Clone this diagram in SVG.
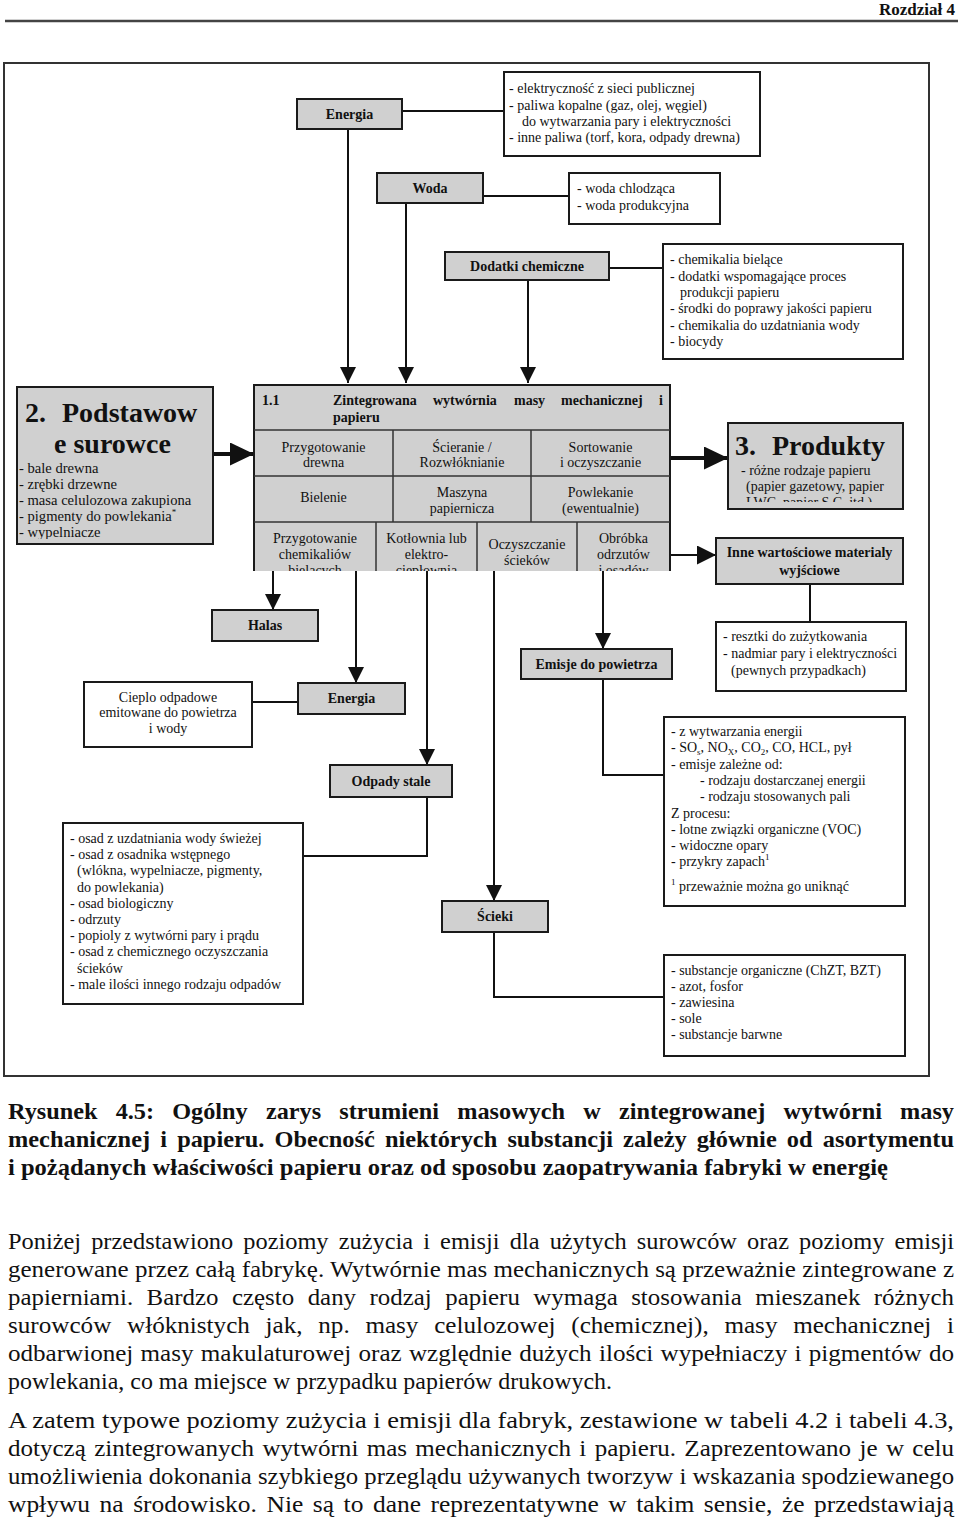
<svg xmlns="http://www.w3.org/2000/svg" width="960" height="1520" viewBox="0 0 960 1520">
<style>
text{font-family:"Liberation Serif","Times New Roman",serif;fill:#111}
.t{font-size:14px}
.tl{font-size:14.6px}
.b{font-size:14px;font-weight:bold}
.c{text-anchor:middle}
.g{fill:#d0d0d0;stroke:#1a1a1a;stroke-width:2}
.w{fill:#fff;stroke:#1a1a1a;stroke-width:2}
.ln{fill:none;stroke:#111;stroke-width:2}
.thick{fill:none;stroke:#111;stroke-width:4}
.dv{fill:none;stroke:#333;stroke-width:1.5}
.big{font-size:28px;font-weight:bold}
.cap{font-size:24px;font-weight:bold}
.body{font-size:24px}
.sm{font-size:9px}
</style>
<defs>
<marker id="arr" viewBox="0 0 16 16" refX="16" refY="8" markerWidth="16" markerHeight="16" markerUnits="userSpaceOnUse" orient="auto"><path d="M0,0L16,8L0,16z" fill="#111"/></marker>
<marker id="arr2" viewBox="0 0 19 19" refX="19" refY="9.5" markerWidth="19" markerHeight="19" markerUnits="userSpaceOnUse" orient="auto"><path d="M0,0L19,9.5L0,19z" fill="#111"/></marker>
<marker id="bigA" viewBox="0 0 24 23" refX="24" refY="11.5" markerWidth="24" markerHeight="23" markerUnits="userSpaceOnUse" orient="auto"><path d="M0,0L24,11.5L0,23z" fill="#111"/></marker>
<clipPath id="cc"><rect x="250" y="380" width="425" height="191"/></clipPath>
<clipPath id="cp"><rect x="17" y="387" width="196" height="152"/></clipPath>
<clipPath id="cq"><rect x="728" y="423" width="175" height="79"/></clipPath>
</defs>
<rect width="960" height="1520" fill="#fff"/>

<g id="header">
<text x="955" y="15" style="font-size:17px;font-weight:bold;text-anchor:end">Rozdział 4</text>
<line x1="5" y1="21" x2="958" y2="21" stroke="#444" stroke-width="2.5"/>
</g>

<rect id="frame" x="4" y="63" width="925" height="1013" fill="none" stroke="#333" stroke-width="2"/>

<g id="connectors">
<path class="ln" d="M348,129V383" marker-end="url(#arr)"/>
<path class="ln" d="M406,203V383" marker-end="url(#arr)"/>
<path class="ln" d="M528,280V383" marker-end="url(#arr)"/>
<path class="ln" d="M402,111H504"/>
<path class="ln" d="M483,196H569"/>
<path class="ln" d="M609,268H663"/>
<path class="thick" d="M213,454H254" marker-end="url(#bigA)"/>
<path class="thick" d="M671,458H728" marker-end="url(#bigA)"/>
<path class="ln" d="M668,555H716" marker-end="url(#arr2)"/>
<path class="ln" d="M810,584V622"/>
<path class="ln" d="M273,571V610" marker-end="url(#arr)"/>
<path class="ln" d="M356,571V683" marker-end="url(#arr)"/>
<path class="ln" d="M427,571V765" marker-end="url(#arr)"/>
<path class="ln" d="M494,571V901" marker-end="url(#arr)"/>
<path class="ln" d="M603,571V649" marker-end="url(#arr)"/>
<path class="ln" d="M298,702H252"/>
<path class="ln" d="M427,797V856H303"/>
<path class="ln" d="M494,932V997H664"/>
<path class="ln" d="M603,679V775H664"/>
</g>

<g id="energia-in">
<rect class="g" x="297" y="99" width="105" height="30"/>
<text class="b c" x="349.5" y="119">Energia</text>
</g>
<g id="energia-list">
<rect class="w" x="504" y="72" width="256" height="84"/>
<text class="t" x="509" y="93">- elektryczność z sieci publicznej</text>
<text class="t" x="509" y="110">- paliwa kopalne (gaz, olej, węgiel)</text>
<text class="t" x="522" y="126">do wytwarzania pary i elektryczności</text>
<text class="t" x="509" y="142">- inne paliwa (torf, kora, odpady drewna)</text>
</g>

<g id="woda">
<rect class="g" x="377" y="173" width="106" height="30"/>
<text class="b c" x="430" y="193">Woda</text>
</g>
<g id="woda-list">
<rect class="w" x="569" y="173" width="151" height="51"/>
<text class="t" x="577" y="193">- woda chlodząca</text>
<text class="t" x="577" y="210">- woda produkcyjna</text>
</g>

<g id="dodatki">
<rect class="g" x="445" y="252" width="164" height="28"/>
<text class="b c" x="527" y="271">Dodatki chemiczne</text>
</g>
<g id="dodatki-list">
<rect class="w" x="663" y="244" width="240" height="115"/>
<text class="t" x="670" y="264">- chemikalia bielące</text>
<text class="t" x="670" y="280.5">- dodatki wspomagające proces</text>
<text class="t" x="680" y="297">produkcji papieru</text>
<text class="t" x="670" y="313">- środki do poprawy jakości papieru</text>
<text class="t" x="670" y="329.5">- chemikalia do uzdatniania wody</text>
<text class="t" x="670" y="346">- biocydy</text>
</g>

<g id="surowce">
<rect class="g" x="17" y="387" width="196" height="157"/>
<g clip-path="url(#cp)">
<text class="big" x="25" y="422">2.</text>
<text class="big" x="62" y="422">Podstawow</text>
<text class="big c" x="112.5" y="453">e surowce</text>
<text class="tl" x="19" y="473">- bale drewna</text>
<text class="tl" x="19" y="489">- zrębki drzewne</text>
<text class="tl" x="19" y="505">- masa celulozowa zakupiona</text>
<text class="tl" x="19" y="521">- pigmenty do powlekania<tspan class="sm" dy="-6">*</tspan></text>
<text class="tl" x="19" y="537">- wypelniacze</text>
</g>
</g>

<g id="wytwornia">
<g clip-path="url(#cc)">
<rect class="g" x="254" y="385" width="416" height="195"/>
<path class="dv" d="M254,430H670M254,476H670M254,522H670M393,430V522M531,430V522M376,522V580M477,522V580M577,522V580"/>
<text class="b" x="262" y="405">1.1</text>
<text class="b" y="405"><tspan x="333">Zintegrowana</tspan><tspan x="433">wytwórnia</tspan><tspan x="514">masy</tspan><tspan x="561">mechanicznej</tspan><tspan x="659">i</tspan></text>
<text class="b" x="333" y="422">papieru</text>
<text class="t c" x="323.5" y="452">Przygotowanie</text>
<text class="t c" x="323.5" y="467">drewna</text>
<text class="t c" x="462" y="452">Ścieranie /</text>
<text class="t c" x="462" y="467">Rozwłóknianie</text>
<text class="t c" x="600.5" y="452">Sortowanie</text>
<text class="t c" x="600.5" y="467">i oczyszczanie</text>
<text class="t c" x="323.5" y="502">Bielenie</text>
<text class="t c" x="462" y="497">Maszyna</text>
<text class="t c" x="462" y="513">papiernicza</text>
<text class="t c" x="600.5" y="497">Powlekanie</text>
<text class="t c" x="600.5" y="513">(ewentualnie)</text>
<text class="t c" x="315" y="543">Przygotowanie</text>
<text class="t c" x="315" y="559">chemikaliów</text>
<text class="t c" x="315" y="575">bielących</text>
<text class="t c" x="426.5" y="543">Kotłownia lub</text>
<text class="t c" x="426.5" y="559">elektro-</text>
<text class="t c" x="426.5" y="575">ciepłownia</text>
<text class="t c" x="527" y="549">Oczyszczanie</text>
<text class="t c" x="527" y="565">ścieków</text>
<text class="t c" x="623.5" y="543">Obróbka</text>
<text class="t c" x="623.5" y="559">odrzutów</text>
<text class="t c" x="623.5" y="575">i osadów</text>
</g>
</g>

<g id="produkty">
<rect class="g" x="728" y="423" width="175" height="86"/>
<g clip-path="url(#cq)">
<text class="big" x="735" y="455">3.</text>
<text class="big" x="772" y="455">Produkty</text>
<text class="t" x="741" y="475">- różne rodzaje papieru</text>
<text class="t" x="746" y="491">(papier gazetowy, papier</text>
<text class="t" x="746" y="507">LWC, papier S.C. itd.)</text>
</g>
</g>

<g id="inne">
<rect class="g" x="716" y="538" width="187" height="46"/>
<text class="b c" x="809.5" y="557">Inne wartościowe materialy</text>
<text class="b c" x="809.5" y="575">wyjściowe</text>
</g>

<g id="resztki">
<rect class="w" x="716" y="622" width="190" height="69"/>
<text class="t" x="723" y="641">- resztki do zużytkowania</text>
<text class="t" x="723" y="658">- nadmiar pary i elektryczności</text>
<text class="t" x="731" y="675">(pewnych przypadkach)</text>
</g>

<g id="halas">
<rect class="g" x="212" y="610" width="106" height="31"/>
<text class="b c" x="265" y="630">Halas</text>
</g>

<g id="energia-out">
<rect class="g" x="298" y="683" width="107" height="31"/>
<text class="b c" x="351.5" y="703">Energia</text>
</g>

<g id="cieplo">
<rect class="w" x="84" y="682" width="168" height="65"/>
<text class="t c" x="168" y="702">Cieplo odpadowe</text>
<text class="t c" x="168" y="717">emitowane do powietrza</text>
<text class="t c" x="168" y="733">i wody</text>
</g>

<g id="odpady">
<rect class="g" x="330" y="765" width="122" height="32"/>
<text class="b c" x="391" y="786">Odpady stale</text>
</g>
<g id="odpady-list">
<rect class="w" x="63" y="823" width="240" height="181"/>
<text class="t" x="70" y="843">- osad z uzdatniania wody świeżej</text>
<text class="t" x="70" y="859.2">- osad z osadnika wstępnego</text>
<text class="t" x="77" y="875.4">(wlókna, wypelniacze, pigmenty,</text>
<text class="t" x="77" y="891.6">do powlekania)</text>
<text class="t" x="70" y="907.8">- osad biologiczny</text>
<text class="t" x="70" y="924">- odrzuty</text>
<text class="t" x="70" y="940.2">- popioly z wytwórni pary i prądu</text>
<text class="t" x="70" y="956.4">- osad z chemicznego oczyszczania</text>
<text class="t" x="77" y="972.6">ścieków</text>
<text class="t" x="70" y="988.8">- male ilości innego rodzaju odpadów</text>
</g>

<g id="emisje">
<rect class="g" x="521" y="649" width="151" height="30"/>
<text class="b c" x="596.5" y="669">Emisje do powietrza</text>
</g>
<g id="emisje-list">
<rect class="w" x="664" y="717" width="241" height="189"/>
<text class="t" x="671" y="736">- z wytwarzania energii</text>
<text class="t" x="671" y="752.3">- SO<tspan class="sm" dy="3">s</tspan><tspan dy="-3">, NO</tspan><tspan class="sm" dy="3">X</tspan><tspan dy="-3">, CO</tspan><tspan class="sm" dy="3">2</tspan><tspan dy="-3">, CO, HCL, pył</tspan></text>
<text class="t" x="671" y="768.6">- emisje zależne od:</text>
<text class="t" x="700" y="784.9">- rodzaju dostarczanej energii</text>
<text class="t" x="700" y="801.2">- rodzaju stosowanych pali</text>
<text class="t" x="671" y="817.5">Z procesu:</text>
<text class="t" x="671" y="833.8">- lotne związki organiczne (VOC)</text>
<text class="t" x="671" y="850.1">- widoczne opary</text>
<text class="t" x="671" y="866.4">- przykry zapach<tspan class="sm" dy="-6">1</tspan></text>
<text class="t" x="671" y="891"><tspan class="sm" dy="-6">1</tspan><tspan dy="6"> przeważnie można go uniknąć</tspan></text>
</g>

<g id="scieki">
<rect class="g" x="442" y="901" width="106" height="31"/>
<text class="b c" x="495" y="921">Ścieki</text>
</g>
<g id="scieki-list">
<rect class="w" x="664" y="955" width="241" height="101"/>
<text class="t" x="671" y="975">- substancje organiczne (ChZT, BZT)</text>
<text class="t" x="671" y="991">- azot, fosfor</text>
<text class="t" x="671" y="1007">- zawiesina</text>
<text class="t" x="671" y="1023">- sole</text>
<text class="t" x="671" y="1039">- substancje barwne</text>
</g>

<g id="caption">
<text class="cap" x="8" y="1119" textLength="946" lengthAdjust="spacingAndGlyphs" style="word-spacing:12px">Rysunek 4.5: Ogólny zarys strumieni masowych w zintegrowanej wytwórni masy</text>
<text class="cap" x="8" y="1147" textLength="946" lengthAdjust="spacingAndGlyphs" style="word-spacing:4px">mechanicznej i papieru. Obecność niektórych substancji zależy głównie od asortymentu</text>
<text class="cap" x="8" y="1175" textLength="880" lengthAdjust="spacingAndGlyphs">i pożądanych właściwości papieru oraz od sposobu zaopatrywania fabryki w energię</text>
</g>

<g id="paragraph1">
<text class="body" x="8" y="1249" textLength="946" lengthAdjust="spacingAndGlyphs" style="word-spacing:4px">Poniżej przedstawiono poziomy zużycia i emisji dla użytych surowców oraz poziomy emisji</text>
<text class="body" x="8" y="1277" textLength="946" lengthAdjust="spacingAndGlyphs">generowane przez całą fabrykę. Wytwórnie mas mechanicznych są przeważnie zintegrowane z</text>
<text class="body" x="8" y="1305" textLength="946" lengthAdjust="spacingAndGlyphs" style="word-spacing:7px">papierniami. Bardzo często dany rodzaj papieru wymaga stosowania mieszanek różnych</text>
<text class="body" x="8" y="1333" textLength="946" lengthAdjust="spacingAndGlyphs" style="word-spacing:9px">surowców włóknistych jak, np. masy celulozowej (chemicznej), masy mechanicznej i</text>
<text class="body" x="8" y="1361" textLength="946" lengthAdjust="spacingAndGlyphs" style="word-spacing:1px">odbarwionej masy makulaturowej oraz względnie dużych ilości wypełniaczy i pigmentów do</text>
<text class="body" x="8" y="1389" textLength="604" lengthAdjust="spacingAndGlyphs">powlekania, co ma miejsce w przypadku papierów drukowych.</text>
</g>

<g id="paragraph2">
<text class="body" x="8" y="1428" textLength="946" lengthAdjust="spacingAndGlyphs">A zatem typowe poziomy zużycia i emisji dla fabryk, zestawione w tabeli 4.2 i tabeli 4.3,</text>
<text class="body" x="8" y="1456" textLength="946" lengthAdjust="spacingAndGlyphs" style="word-spacing:2px">dotyczą zintegrowanych wytwórni mas mechanicznych i papieru. Zaprezentowano je w celu</text>
<text class="body" x="8" y="1484" textLength="946" lengthAdjust="spacingAndGlyphs">umożliwienia dokonania szybkiego przeglądu używanych tworzyw i wskazania spodziewanego</text>
<text class="body" x="8" y="1512" textLength="946" lengthAdjust="spacingAndGlyphs" style="word-spacing:3px">wpływu na środowisko. Nie są to dane reprezentatywne w takim sensie, że przedstawiają</text>
</g>
</svg>
